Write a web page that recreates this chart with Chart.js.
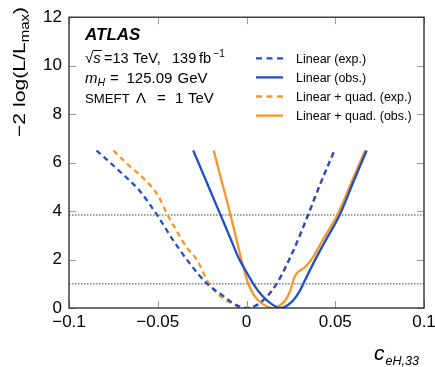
<!DOCTYPE html>
<html>
<head>
<meta charset="utf-8">
<script src="https://cdn.jsdelivr.net/npm/chart.js@4"></script>
<style>
  html, body { margin: 0; padding: 0; background: #fff; }
  canvas { display: block; }
</style>
</head>
<body>
<canvas id="scan" width="435" height="367"></canvas>
<script>
// values
const seriesLabels = ["Linear (exp.)", "Linear (obs.)", "Linear + quad. (exp.)", "Linear + quad. (obs.)"];

const linExpX = [-0.0845, -0.0713, -0.060, -0.0506, -0.0412, -0.0318, -0.0222, -0.0131, -0.006, 0.0, 0.005, 0.010, 0.017, 0.0264, 0.0348, 0.0414, 0.0495];
const linExpY = [6.5, 5.63, 4.82, 3.86, 2.78, 1.82, 1.0, 0.5, 0.13, 0.0, 0.09, 0.36, 1.0, 2.37, 3.86, 5.09, 6.5];

const linObsX = [-0.030, -0.0225, -0.0144, -0.0092, -0.0046, 0.001, 0.0038, 0.0086, 0.014, 0.0193, 0.0255, 0.0292, 0.032, 0.0375, 0.0445, 0.0525, 0.0603, 0.0677];
const linObsY = [6.5, 5.2, 3.8, 2.9, 2.09, 1.35, 1.0, 0.53, 0.17, 0.0, 0.25, 0.6, 1.0, 1.82, 2.78, 3.84, 5.22, 6.5];

const quadExpX = [-0.075, -0.0656, -0.0562, -0.0497, -0.0446, -0.0393, -0.0337, -0.028, -0.0215, -0.015, -0.008, -0.003, 0.0, 0.005, 0.010, 0.017, 0.0264, 0.0348, 0.0414, 0.0497];
const quadExpY = [6.5, 5.84, 5.22, 4.62, 3.86, 3.18, 2.5, 2.0, 1.05, 0.5, 0.18, 0.03, 0.0, 0.09, 0.36, 1.0, 2.37, 3.86, 5.09, 6.5];

const quadObsX = [-0.0185, -0.0135, -0.009, -0.0055, -0.0027, 0.001, 0.0045, 0.0086, 0.0125, 0.0155, 0.0195, 0.0217, 0.0245, 0.0273, 0.033, 0.0375, 0.0425, 0.047, 0.0512, 0.0593, 0.0668];
const quadObsY = [6.5, 5.1, 3.84, 2.78, 1.95, 1.0, 0.5, 0.19, 0.04, 0.0, 0.15, 0.3, 0.68, 1.32, 1.69, 2.1, 2.75, 3.3, 3.84, 5.22, 6.5];

// 68% and 95% CL reference levels
const clLevels = [1.0, 3.84];

const xTicks = [-0.1, -0.05, 0, 0.05, 0.1];
const yTicks = [0, 2, 4, 6, 8, 10, 12];

const BLUE = "#2050c6";
const ORANGE = "#f8962a";
const FONT = "'Liberation Sans', Arial, Helvetica, sans-serif";

function pts(xs, ys) {
  return xs.map((x, i) => ({ x: x, y: ys[i] }));
}

function curve(label, xs, ys, color, dashed) {
  return {
    label: label,
    data: pts(xs, ys),
    borderColor: color,
    backgroundColor: color,
    borderWidth: 2.3,
    borderDash: dashed ? [5.5, 4] : [],
    pointRadius: 0,
    fill: false,
    cubicInterpolationMode: "monotone",
  };
}

const datasets = [
  curve(seriesLabels[0], linExpX, linExpY, BLUE, true),
  curve(seriesLabels[1], linObsX, linObsY, BLUE, false),
  curve(seriesLabels[2], quadExpX, quadExpY, ORANGE, true),
  curve(seriesLabels[3], quadObsX, quadObsY, ORANGE, false),
];
clLevels.forEach((lv) => {
  datasets.push({
    label: "",
    data: [{ x: xTicks[0], y: lv }, { x: xTicks[xTicks.length - 1], y: lv }],
    borderColor: "#808080",
    borderWidth: 1.5,
    borderDash: [1.5, 1.5],
    pointRadius: 0,
    fill: false,
  });
});

function drawRuns(ctx, x, y, runs) {
  runs.forEach((r) => {
    ctx.font = r.font;
    ctx.fillText(r.t, x, y + (r.dy || 0));
    x += ctx.measureText(r.t).width + (r.gap || 0);
  });
  return x;
}

function runsWidth(ctx, runs) {
  let w = 0;
  runs.forEach((r) => {
    ctx.font = r.font;
    w += ctx.measureText(r.t).width + (r.gap || 0);
  });
  return w;
}

const decorations = {
  id: "decorations",
  afterDatasetsDraw(chart) {
    const ctx = chart.ctx;
    const a = chart.chartArea;
    const xs = chart.scales.x;
    const ys = chart.scales.y;
    ctx.save();
    // inward ticks
    ctx.strokeStyle = "#9a9a9a";
    ctx.lineWidth = 1;
    yTicks.forEach((v) => {
      const py = Math.round(ys.getPixelForValue(v)) + 0.5;
      ctx.beginPath();
      ctx.moveTo(a.left, py); ctx.lineTo(a.left + 7, py);
      ctx.moveTo(a.right, py); ctx.lineTo(a.right - 7, py);
      ctx.stroke();
    });
    xTicks.forEach((v) => {
      const px = Math.round(xs.getPixelForValue(v)) + 0.5;
      ctx.beginPath();
      ctx.moveTo(px, a.bottom); ctx.lineTo(px, a.bottom - 7);
      ctx.moveTo(px, a.top); ctx.lineTo(px, a.top + 7);
      ctx.stroke();
    });
    // frame
    ctx.strokeStyle = "#262626";
    ctx.lineWidth = 1.3;
    ctx.strokeRect(a.left, a.top, a.right - a.left, a.bottom - a.top);
    ctx.restore();
  },
  afterDraw(chart) {
    const ctx = chart.ctx;
    ctx.save();
    ctx.fillStyle = "#000";
    ctx.textBaseline = "alphabetic";
    ctx.textAlign = "left";

    const f15 = "15px " + FONT;
    const f145 = "14.5px " + FONT;
    const i15 = "italic 15px " + FONT;
    const f10 = "10px " + FONT;
    const i10 = "italic 10.5px " + FONT;

    // ATLAS label
    ctx.font = "italic bold 17px " + FONT;
    ctx.fillText("ATLAS", 85, 40);

    // sqrt(s) line
    ctx.font = f15;
    ctx.fillText("\u221A", 85, 62.7);
    const xs0 = 85 + ctx.measureText("\u221A").width;
    ctx.font = i15;
    ctx.fillText("s", xs0, 62.7);
    const xs1 = xs0 + ctx.measureText("s").width + 1;
    ctx.strokeStyle = "#000";
    ctx.lineWidth = 1;
    ctx.beginPath();
    ctx.moveTo(xs0 - 0.5, 50.5); ctx.lineTo(xs1, 50.5);
    ctx.stroke();
    ctx.font = f145;
    ctx.fillText("=13", 104, 62.7);
    ctx.fillText("TeV,", 133, 62.7);
    ctx.fillText("139", 172, 62.7);
    ctx.fillText("fb", 199, 62.7);
    ctx.font = f10;
    ctx.fillText("\u22121", 213.5, 56.5);

    // m_H line
    drawRuns(ctx, 85, 83.3, [
      { t: "m", font: i15 },
      { t: "H", font: i10, dy: 3 },
    ]);
    ctx.font = f15;
    ctx.fillText("=", 110, 83.3);
    ctx.fillText("125.09", 126.5, 83.3);
    ctx.fillText("GeV", 177.5, 83.3);

    // SMEFT line
    ctx.font = "13.2px " + FONT;
    ctx.fillText("SMEFT", 85, 103.3);
    ctx.font = f15;
    ctx.fillText("\u039B", 136, 103.3);
    ctx.fillText("=", 157, 103.3);
    ctx.fillText("1", 175, 103.3);
    ctx.fillText("TeV", 188, 103.3);

    // legend
    for (let i = 0; i < 4; i++) {
      const ds = chart.data.datasets[i];
      const cy = 58.3 + i * 19.1;
      ctx.strokeStyle = ds.borderColor;
      ctx.lineWidth = 2.3;
      ctx.setLineDash(ds.borderDash.length ? [6, 4.5] : []);
      ctx.beginPath();
      ctx.moveTo(256, cy); ctx.lineTo(283, cy);
      ctx.stroke();
      ctx.setLineDash([]);
      ctx.font = "12.5px " + FONT;
      ctx.fillText(ds.label, 296, cy + 4.5);
    }

    // y axis title, rotated, stretched along its length
    const yRuns = [
      { t: "\u22122 log(L/L", font: "17px " + FONT },
      { t: "max", font: "12px " + FONT, dy: 4 },
      { t: ")", font: "17px " + FONT },
    ];
    const w = runsWidth(ctx, yRuns);
    ctx.save();
    ctx.translate(25, 137);
    ctx.rotate(-Math.PI / 2);
    ctx.scale(130 / w, 1);
    drawRuns(ctx, 0, 0, yRuns);
    ctx.restore();

    // x axis title
    drawRuns(ctx, 374, 360, [
      { t: "c", font: "italic 21px " + FONT, gap: 1 },
      { t: "eH,33", font: "italic 12.5px " + FONT, dy: 5 },
    ]);
    ctx.restore();
  },
};

new Chart(document.getElementById("scan"), {
  type: "line",
  data: { datasets: datasets },
  options: {
    responsive: false,
    devicePixelRatio: 1,
    animation: false,
    layout: { padding: { top: 14, left: 0, right: 0, bottom: 0 } },
    plugins: { legend: { display: false }, tooltip: { enabled: false } },
    scales: {
      x: {
        type: "linear",
        min: xTicks[0],
        max: xTicks[xTicks.length - 1],
        afterBuildTicks: (s) => { s.ticks = xTicks.map((v) => ({ value: v })); },
        afterFit: (s) => { s.height = 59; s.paddingLeft = 0; s.paddingRight = 11; },
        grid: { display: false, drawTicks: false },
        border: { display: false },
        ticks: {
          padding: 4,
          maxRotation: 0,
          autoSkip: false,
          color: "#000",
          font: { family: FONT, size: 17 },
          callback: (v) => (v === 0 ? "0" : String(v).replace("-", "\u2212")),
        },
      },
      y: {
        type: "linear",
        min: yTicks[0],
        max: yTicks[yTicks.length - 1],
        afterBuildTicks: (s) => { s.ticks = yTicks.map((v) => ({ value: v })); },
        afterFit: (s) => { s.width = 69; },
        grid: { display: false, drawTicks: false },
        border: { display: false },
        ticks: {
          padding: 7,
          color: "#000",
          font: { family: FONT, size: 17 },
        },
      },
    },
  },
  plugins: [decorations],
});
</script>
</body>
</html>
